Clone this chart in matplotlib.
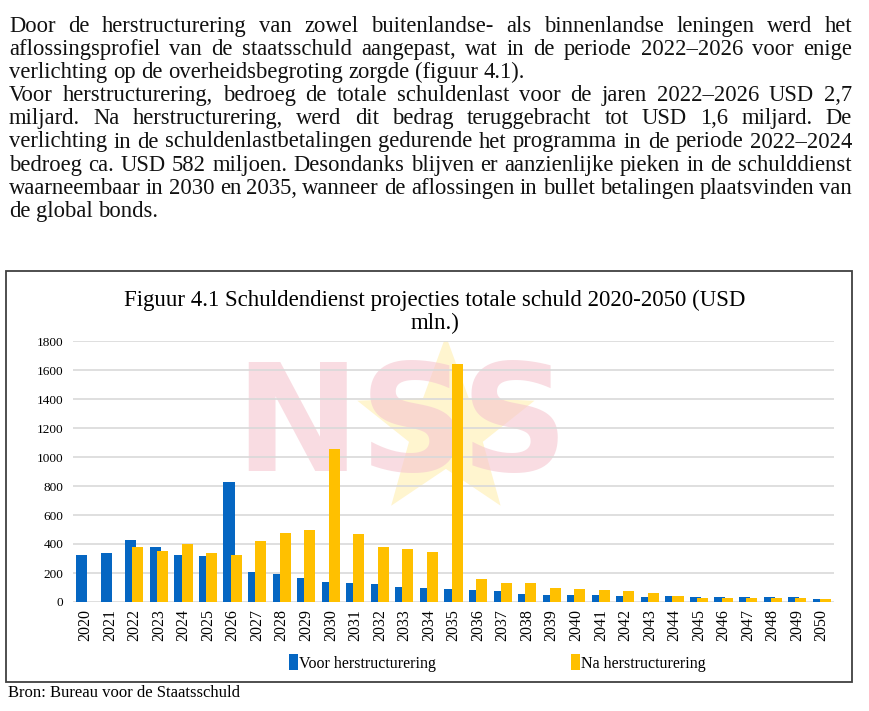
import numpy as np
import matplotlib.pyplot as plt
from matplotlib.patches import Rectangle, Polygon

plt.rcParams['font.family'] = ['Liberation Serif', 'DejaVu Serif']

W, H = 870, 711

years = [str(y) for y in range(2020, 2051)]
voor = [325, 335, 430, 377, 324, 317, 825, 209, 193, 165, 138, 129, 122, 106, 94, 90,
        83, 76, 53, 48, 46, 46, 41, 37, 40, 37, 37, 35, 33, 35, 23]
na = [0, 0, 381, 354, 400, 340, 324, 421, 478, 497, 1055, 471, 379, 366, 345, 1639,
      161, 133, 129, 94, 88, 83, 74, 60, 44, 30, 30, 28, 28, 28, 20]
yticks = [0, 200, 400, 600, 800, 1000, 1200, 1400, 1600, 1800]

title = "Figuur 4.1 Schuldendienst projecties totale schuld 2020-2050 (USD\nmln.)"
source = "Bron: Bureau voor de Staatsschuld"
body = [
    ("Door de herstructurering van zowel buitenlandse- als binnenlandse leningen werd het", True),
    ("aflossingsprofiel van de staatsschuld aangepast, wat in de periode 2022\u20132026 voor enige", True),
    ("verlichting op de overheidsbegroting zorgde (figuur 4.1).", False),
    ("Voor herstructurering, bedroeg de totale schuldenlast voor de jaren 2022\u20132026 USD 2,7", True),
    ("miljard. Na herstructurering, werd dit bedrag teruggebracht tot USD 1,6 miljard. De", True),
    ("verlichting in de schuldenlastbetalingen gedurende het programma in de periode 2022\u20132024", True),
    ("bedroeg ca. USD 582 miljoen. Desondanks blijven er aanzienlijke pieken in de schulddienst", True),
    ("waarneembaar in 2030 en 2035, wanneer de aflossingen in bullet betalingen plaatsvinden van", True),
    ("de global bonds.", False),
]


def fx(px):
    return px / W


def fy(py):
    return 1 - py / H


fig = plt.figure(figsize=(W / 100, H / 100), dpi=100)
renderer = fig.canvas.get_renderer()

# justified paragraph text
x0, x1 = 9, 852
size = 16.3
for i, (line, just) in enumerate(body):
    base = 32 + i * 23.1
    words = line.split(' ')
    texts = [fig.text(0, fy(base), w, fontsize=size, va='baseline', ha='left',
                      family='Liberation Serif', color='#111111') for w in words]
    widths = [t.get_window_extent(renderer).width for t in texts]
    if just and len(words) > 1:
        gap = (x1 - x0 - sum(widths)) / (len(words) - 1)
    else:
        gap = size * 100 / 72 * 0.25
    x = x0
    for t, w in zip(texts, widths):
        t.set_x(fx(x))
        x += w + gap

# chart border
fig.patches.append(Rectangle((fx(6), fy(682)), fx(852) - fx(6), fy(271) - fy(682),
                             transform=fig.transFigure, fill=False, edgecolor='#404040', lw=1.3))

ax = fig.add_axes([fx(73), fy(602), fx(834) - fx(73), fy(341) - fy(602)])
pos = np.arange(len(years))
bw = 0.45
ax.bar(pos - 0.145, voor, bw, color='#0566C2', label='Voor herstructurering', zorder=3)
ax.bar(pos + 0.145, na, bw, color='#FFC000', label='Na herstructurering', zorder=4)

ax.set_xlim(-0.5, len(years) - 0.5)
ax.set_ylim(0, 1800)
ax.set_yticks(yticks)
ax.set_yticklabels([str(v) for v in yticks], fontsize=9.5)
ax.set_xticks(pos)
ax.set_xticklabels(years, rotation=90, fontsize=11.5)
ax.tick_params(length=0, pad=5)
ax.tick_params(axis='y', pad=7)
ax.grid(axis='y', color='#D9D9D9', lw=1.2, zorder=0)
for s in ax.spines.values():
    s.set_visible(False)
ax.set_facecolor('none')

# faint logo watermark behind the bars (axes-fraction coordinates)
cx, cy = 0.49, 0.66
ang = np.pi / 2 + np.arange(10) * np.pi / 5
rad = np.where(np.arange(10) % 2 == 0, 0.36, 0.15)
star = np.column_stack([cx + rad * np.cos(ang) * 0.34, cy + rad * np.sin(ang)])
ax.add_patch(Polygon(star, closed=True, transform=ax.transAxes, facecolor='#FFF5CF',
                     edgecolor='none', zorder=0))
ax.text(0.432, 0.66, 'NSS', transform=ax.transAxes, fontsize=108, fontweight='bold',
        color='#F5C6CF', alpha=0.6, ha='center', va='center', family='DejaVu Sans', zorder=1)

fig.text(0.5, fy(312), title, fontsize=16.5, ha='center', va='center', linespacing=1.1)

handles, labels = ax.get_legend_handles_labels()
fig.legend(handles, labels, loc='center', bbox_to_anchor=(fx(497.5), fy(663)), ncol=2,
           frameon=False, fontsize=11.5, handlelength=0.55, handleheight=1.1,
           handletextpad=0.1, columnspacing=8.45)

fig.text(fx(8), fy(697), source, fontsize=12, va='baseline', ha='left')

fig.savefig('out.png', dpi=100)
